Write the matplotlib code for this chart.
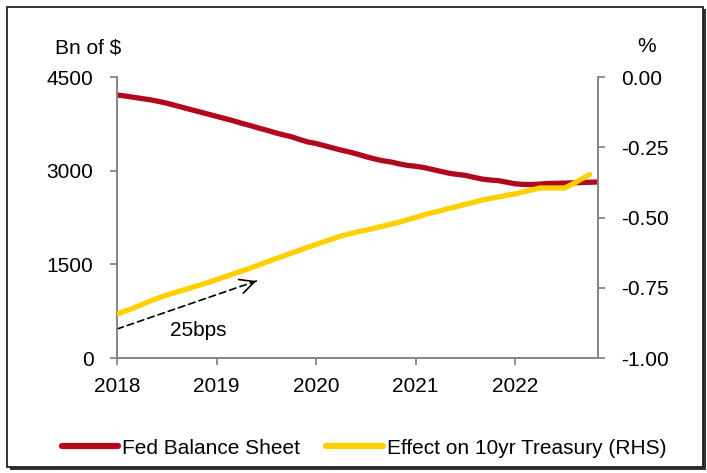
import numpy as np
import matplotlib.pyplot as plt
from matplotlib.patches import Rectangle
from matplotlib.lines import Line2D

plt.rcParams['font.family'] = ['Liberation Sans', 'DejaVu Sans']

# Monthly series starting Jan 2018
fed_balance = [4212, 4195, 4175, 4155, 4135, 4110, 4080, 4045, 4010, 3975,
               3940, 3905, 3870, 3835, 3800, 3760, 3725, 3685, 3650, 3610,
               3575, 3545, 3500, 3460, 3435, 3400, 3365, 3330, 3300, 3265,
               3225, 3190, 3160, 3140, 3110, 3085, 3070, 3050, 3020, 2990,
               2960, 2940, 2925, 2895, 2866, 2850, 2840, 2815, 2790, 2780,
               2778, 2785, 2795, 2798, 2800, 2805, 2810, 2815, 2818]
effect_10yr = [-0.843, -0.833, -0.822, -0.810, -0.797, -0.786, -0.776, -0.767,
               -0.758, -0.749, -0.740, -0.731, -0.721, -0.711, -0.701, -0.691,
               -0.681, -0.670, -0.659, -0.648, -0.638, -0.627, -0.617, -0.606,
               -0.596, -0.586, -0.576, -0.566, -0.558, -0.551, -0.545, -0.538,
               -0.531, -0.524, -0.517, -0.508, -0.500, -0.491, -0.483, -0.476,
               -0.468, -0.461, -0.453, -0.446, -0.438, -0.432, -0.427, -0.421,
               -0.416, -0.409, -0.402, -0.395, -0.395, -0.395, -0.395, -0.380,
               -0.363, -0.347]
year_ticks = [2018, 2019, 2020, 2021, 2022]
left_ticks = [0, 1500, 3000, 4500]
right_ticks = [-1.00, -0.75, -0.50, -0.25, 0.00]

t_fed = 2018 + np.arange(len(fed_balance)) / 12
t_eff = 2018 + np.arange(len(effect_10yr)) / 12

RED = '#B0081C'
YELLOW = '#FFD000'
GREY = '#868686'
FS = 15

fig = plt.figure(figsize=(7.07, 4.73), dpi=100)
ax = fig.add_axes([117 / 707, 1 - 358 / 473, 481 / 707, 281 / 473])
ax2 = ax.twinx()

ax.plot(t_fed, fed_balance, color=RED, lw=3.8, solid_capstyle='round', zorder=3)
ax2.plot(t_eff, effect_10yr, color=YELLOW, lw=3.8, solid_capstyle='round', zorder=3)

ax.set_xlim(2018, 2018 + 58 / 12)
ax.set_ylim(0, 4500)
ax2.set_ylim(-1, 0)
ax.set_xticks(year_ticks)
ax.set_xticklabels([str(y) for y in year_ticks])
ax.set_yticks(left_ticks)
ax2.set_yticks(right_ticks)
ax2.set_yticklabels([f'{v:.2f}' for v in right_ticks])

for a in (ax, ax2):
    for s in a.spines.values():
        s.set_color(GREY)
        s.set_linewidth(1.3)
    a.spines['top'].set_visible(False)
    a.tick_params(direction='out', length=5, width=1.3, color=GREY,
                  labelsize=FS, labelcolor='black', pad=12)
ax.tick_params(axis='x', pad=9)

# dashed arrow (dashed shaft, solid open head) with label
arrow_start = (2018, 464)
arrow_end = (2019.40, 1233)
ax.annotate('', xy=arrow_end, xytext=arrow_start,
            arrowprops=dict(arrowstyle='-', color='black', lw=1.2,
                            linestyle=(0, (4, 2.5)), shrinkA=0, shrinkB=0))
near_end = (arrow_end[0] - 0.05, arrow_end[1] - 0.05 * (arrow_end[1] - arrow_start[1])
            / (arrow_end[0] - arrow_start[0]))
ax.annotate('', xy=arrow_end, xytext=near_end,
            arrowprops=dict(arrowstyle='->', color='black', lw=1.2,
                            mutation_scale=26, shrinkA=0, shrinkB=0))
ax.text(2018.82, 448, '25bps', fontsize=FS, ha='center', va='center')

fig.text(55 / 707, 1 - 48 / 473, 'Bn of $', fontsize=FS, ha='left', va='center')
fig.text(647 / 707, 1 - 47 / 473, '%', fontsize=FS, ha='center', va='center')

handles = [Line2D([], [], color=RED, lw=4.5, solid_capstyle='round'),
           Line2D([], [], color=YELLOW, lw=4.5, solid_capstyle='round')]
fig.legend(handles, ['Fed Balance Sheet', 'Effect on 10yr Treasury (RHS)'],
           loc='center', bbox_to_anchor=(364 / 707, 1 - 448 / 473), ncol=2,
           frameon=False, fontsize=FS, handlelength=2.7, handletextpad=0.2,
           columnspacing=1.25)

# outer frame with a drop shadow on the bottom/right
fig.patches.append(Rectangle((10 / 707, 1 - 470 / 473), 696 / 707, 461 / 473,
                             transform=fig.transFigure, facecolor='#333333',
                             edgecolor='none', zorder=-2))
fig.patches.append(Rectangle((7 / 707, 1 - 467 / 473), 696 / 707, 460 / 473,
                             transform=fig.transFigure, facecolor='white',
                             edgecolor='#222222', lw=1.3, zorder=-1))

fig.savefig('out.png', dpi=100)
